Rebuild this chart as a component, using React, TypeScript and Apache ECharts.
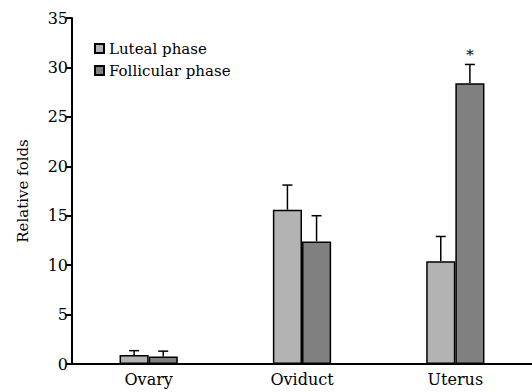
import React, { useEffect, useRef } from "react";
import * as echarts from "echarts";

const categories = ["Ovary", "Oviduct", "Uterus"];
const seriesNames = ["Luteal phase", "Follicular phase"];
const lutealValues = [0.9, 15.6, 10.4];
const lutealErrors = [0.45, 2.5, 2.5];
const follicularValues = [0.75, 12.4, 28.4];
const follicularErrors = [0.55, 2.6, 1.9];
const follicularMarks = ["", "", "*"];
const colors = ["#b3b3b3", "#808080"];

const FONT = "DejaVu Serif";

export default function App() {
  const ref = useRef<HTMLDivElement>(null);
  useEffect(() => {
    if (!ref.current) return;
    const chart = echarts.init(ref.current, null, { renderer: "svg" });
    const barFrac = 0.19;
    const makeErr = (vals: number[], errs: number[], marks: string[], side: number) => ({
      type: "custom",
      z: 5,
      silent: true,
      data: vals.map((v, i) => [i, v, v + errs[i], marks[i] || ""]),
      renderItem: (params: any, api: any) => {
        const i = api.value(0);
        const base = api.coord([i, api.value(1)]);
        const top = api.coord([i, api.value(2)]);
        const band = api.size([1, 0])[0];
        const x = base[0] + side * band * barFrac * 0.5;
        const cap = 5;
        const children: any[] = [
          { type: "line", shape: { x1: x, y1: base[1], x2: x, y2: top[1] }, style: { stroke: "#000", lineWidth: 1.5 } },
          { type: "line", shape: { x1: x - cap, y1: top[1], x2: x + cap, y2: top[1] }, style: { stroke: "#000", lineWidth: 1.5 } },
        ];
        const mark = api.value(3);
        if (mark) {
          children.push({
            type: "text",
            style: { text: mark, x, y: top[1] - 2, align: "center", verticalAlign: "bottom", fontFamily: FONT, fontSize: 15, fill: "#000" },
          });
        }
        return { type: "group", children };
      },
    });
    chart.setOption({
      animation: false,
      backgroundColor: "#fff",
      textStyle: { fontFamily: FONT },
      grid: { left: 72, right: -6, top: 18, bottom: 28 },
      legend: {
        orient: "vertical",
        left: 89,
        top: 35,
        icon: "rect",
        itemWidth: 9,
        itemHeight: 9,
        itemGap: 5,
        textStyle: { fontFamily: FONT, fontSize: 15, color: "#000", lineHeight: 17 },
        data: seriesNames,
      },
      xAxis: {
        type: "category",
        data: categories,
        axisLine: { lineStyle: { color: "#000", width: 2 } },
        axisTick: { alignWithLabel: true, length: 6, lineStyle: { color: "#000", width: 2 } },
        axisLabel: { fontFamily: FONT, fontSize: 16, color: "#000", margin: 7 },
      },
      yAxis: {
        type: "value",
        min: 0,
        max: 35,
        interval: 5,
        name: "Relative folds",
        nameLocation: "middle",
        nameGap: 42,
        nameTextStyle: { fontFamily: FONT, fontSize: 15, color: "#000" },
        splitLine: { show: false },
        axisLine: { show: true, lineStyle: { color: "#000", width: 2 } },
        axisTick: { show: true, length: 6, lineStyle: { color: "#000", width: 2 } },
        axisLabel: { fontFamily: FONT, fontSize: 16, color: "#000", margin: 4 },
      },
      series: [
        {
          name: seriesNames[0],
          type: "bar",
          data: lutealValues,
          barWidth: "19%",
          barGap: "0%",
          itemStyle: { color: colors[0], borderColor: "#000", borderWidth: 1.5 },
        },
        {
          name: seriesNames[1],
          type: "bar",
          data: follicularValues,
          barWidth: "19%",
          barGap: "0%",
          itemStyle: { color: colors[1], borderColor: "#000", borderWidth: 1.5 },
        },
        makeErr(lutealValues, lutealErrors, ["", "", ""], -1),
        makeErr(follicularValues, follicularErrors, follicularMarks, 1),
      ],
    });
    return () => chart.dispose();
  }, []);
  return <div ref={ref} style={{ width: 532, height: 392, position: "absolute", left: 0, top: 0 }} />;
}
